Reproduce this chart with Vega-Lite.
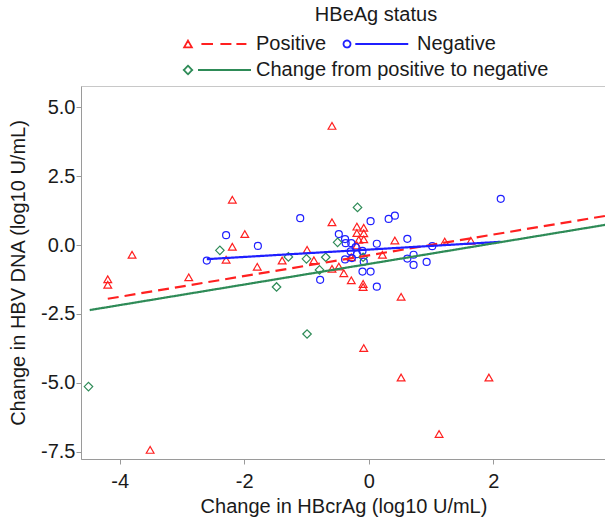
{
  "$schema": "https://vega.github.io/schema/vega-lite/v6.json",
  "width": 525,
  "height": 373,
  "autosize": "none",
  "padding": {"left": 81, "top": 86, "right": 0, "bottom": 64},
  "background": "white",
  "config": {
    "font": "Liberation Sans",
    "view": {"stroke": "#c8c8c8", "strokeWidth": 1},
    "axis": {
      "grid": false,
      "domainColor": "#9a9a9a",
      "tickColor": "#9a9a9a",
      "tickSize": 5,
      "labelColor": "#1a1a1a",
      "titleColor": "#1a1a1a",
      "labelFontSize": 20,
      "titleFontSize": 20,
      "titleFontWeight": "normal"
    },
    "legend": {
      "orient": "none",
      "direction": "horizontal",
      "titleFontSize": 20,
      "titleFontWeight": "normal",
      "titleColor": "#1a1a1a",
      "labelFontSize": 20,
      "labelColor": "#1a1a1a",
      "labelLimit": 400,
      "symbolSize": 49,
      "symbolStrokeWidth": 1.8,
      "symbolOpacity": 1,
      "symbolFillColor": "transparent"
    }
  },
  "datasets": {
    "pts": [
      {"g": "Positive", "x": -0.59, "y": 4.33},
      {"g": "Positive", "x": -4.19, "y": -1.24},
      {"g": "Positive", "x": -4.19, "y": -1.44},
      {"g": "Positive", "x": -3.80, "y": -0.35},
      {"g": "Positive", "x": -2.89, "y": -1.17},
      {"g": "Positive", "x": -3.51, "y": -7.44},
      {"g": "Positive", "x": -2.19, "y": 1.65},
      {"g": "Positive", "x": -1.99, "y": 0.40},
      {"g": "Positive", "x": -2.19, "y": -0.06},
      {"g": "Positive", "x": -2.29, "y": -0.53},
      {"g": "Positive", "x": -1.79, "y": -0.79},
      {"g": "Positive", "x": -1.39, "y": -0.56},
      {"g": "Positive", "x": -0.99, "y": -0.17},
      {"g": "Positive", "x": -0.88, "y": -0.55},
      {"g": "Positive", "x": -0.59, "y": 0.83},
      {"g": "Positive", "x": -0.59, "y": -0.86},
      {"g": "Positive", "x": -0.48, "y": -0.78},
      {"g": "Positive", "x": -0.40, "y": -1.02},
      {"g": "Positive", "x": -0.28, "y": -1.28},
      {"g": "Positive", "x": -0.19, "y": 0.67},
      {"g": "Positive", "x": -0.08, "y": 0.63},
      {"g": "Positive", "x": -0.19, "y": 0.44},
      {"g": "Positive", "x": -0.08, "y": 0.43},
      {"g": "Positive", "x": -0.16, "y": 0.19},
      {"g": "Positive", "x": -0.08, "y": 0.21},
      {"g": "Positive", "x": -0.19, "y": -0.01},
      {"g": "Positive", "x": -0.09, "y": -1.41},
      {"g": "Positive", "x": -0.09, "y": -1.52},
      {"g": "Positive", "x": 0.22, "y": -0.35},
      {"g": "Positive", "x": 0.42, "y": 0.17},
      {"g": "Positive", "x": 0.52, "y": -1.88},
      {"g": "Positive", "x": 1.22, "y": 0.13},
      {"g": "Positive", "x": -0.08, "y": -3.74},
      {"g": "Positive", "x": 0.52, "y": -4.81},
      {"g": "Positive", "x": 1.93, "y": -4.81},
      {"g": "Positive", "x": 1.13, "y": -6.86},
      {"g": "Positive", "x": -0.28, "y": -0.44},
      {"g": "Positive", "x": 1.64, "y": 0.16},
      {"g": "Negative", "x": -2.60, "y": -0.56},
      {"g": "Negative", "x": -2.29, "y": 0.36},
      {"g": "Negative", "x": -1.78, "y": -0.03},
      {"g": "Negative", "x": -1.10, "y": 0.98},
      {"g": "Negative", "x": -0.48, "y": 0.40},
      {"g": "Negative", "x": -0.38, "y": 0.22},
      {"g": "Negative", "x": -0.37, "y": 0.07},
      {"g": "Negative", "x": -0.28, "y": 0.07},
      {"g": "Negative", "x": -0.21, "y": -0.07},
      {"g": "Negative", "x": 0.03, "y": 0.87},
      {"g": "Negative", "x": 0.13, "y": 0.05},
      {"g": "Negative", "x": 0.32, "y": 0.95},
      {"g": "Negative", "x": 0.42, "y": 1.07},
      {"g": "Negative", "x": 0.62, "y": 0.23},
      {"g": "Negative", "x": 1.02, "y": -0.04},
      {"g": "Negative", "x": -0.38, "y": -0.52},
      {"g": "Negative", "x": -0.27, "y": -0.47},
      {"g": "Negative", "x": -0.19, "y": -0.33},
      {"g": "Negative", "x": -0.08, "y": -0.60},
      {"g": "Negative", "x": -0.10, "y": -0.96},
      {"g": "Negative", "x": 0.03, "y": -0.96},
      {"g": "Negative", "x": -0.78, "y": -1.26},
      {"g": "Negative", "x": 0.13, "y": -1.51},
      {"g": "Negative", "x": 0.62, "y": -0.49},
      {"g": "Negative", "x": 0.72, "y": -0.35},
      {"g": "Negative", "x": 0.72, "y": -0.72},
      {"g": "Negative", "x": 0.93, "y": -0.61},
      {"g": "Negative", "x": 2.12, "y": 1.68},
      {"g": "Negative", "x": -0.29, "y": -0.23},
      {"g": "Negative", "x": -0.10, "y": -0.21},
      {"g": "Change from positive to negative", "x": -4.50, "y": -5.14},
      {"g": "Change from positive to negative", "x": -2.39, "y": -0.19},
      {"g": "Change from positive to negative", "x": -1.48, "y": -1.52},
      {"g": "Change from positive to negative", "x": -1.29, "y": -0.43},
      {"g": "Change from positive to negative", "x": -1.00, "y": -0.50},
      {"g": "Change from positive to negative", "x": -0.69, "y": -0.44},
      {"g": "Change from positive to negative", "x": -0.79, "y": -0.90},
      {"g": "Change from positive to negative", "x": -0.50, "y": 0.10},
      {"g": "Change from positive to negative", "x": -0.18, "y": 1.37},
      {"g": "Change from positive to negative", "x": -0.99, "y": -3.23},
      {"g": "Change from positive to negative", "x": -0.09, "y": -0.44}
    ],
    "fit": [
      {"g": "Positive", "x": -4.19, "y": -1.95},
      {"g": "Positive", "x": 3.81, "y": 1.065},
      {"g": "Negative", "x": -2.60, "y": -0.51},
      {"g": "Negative", "x": 2.12, "y": 0.12},
      {"g": "Change from positive to negative", "x": -4.48, "y": -2.36},
      {"g": "Change from positive to negative", "x": 3.81, "y": 0.74}
    ]
  },
  "resolve": {
    "scale": {"strokeDash": "independent"},
    "legend": {"strokeDash": "independent"}
  },
  "layer": [
    {
      "data": {"name": "pts"},
      "transform": [{"filter": "datum.g === 'Positive'"}],
      "mark": {"type": "point", "shape": "triangle-up", "filled": false, "size": 60, "strokeWidth": 1.2, "opacity": 1},
      "encoding": {
        "x": {
          "field": "x", "type": "quantitative",
          "scale": {"domain": [-4.62, 3.81], "nice": false, "zero": false},
          "axis": {
            "title": "Change in HBcrAg (log10 U/mL)",
            "values": [-4, -2, 0, 2],
            "labelExpr": "replace(format(datum.value, 'd'), '\u2212', '-')",
            "labelPadding": 7,
            "titlePadding": 5
          }
        },
        "y": {
          "field": "y", "type": "quantitative",
          "scale": {"domain": [-7.77, 5.78], "nice": false, "zero": false},
          "axis": {
            "title": "Change in HBV DNA (log10 U/mL)",
            "values": [-7.5, -5, -2.5, 0, 2.5, 5],
            "labelExpr": "replace(format(datum.value, '.1f'), '\u2212', '-')",
            "labelPadding": 1,
            "titlePadding": 12
          }
        },
        "color": {
          "field": "g", "type": "nominal",
          "scale": {"domain": ["Positive"], "range": ["#ff2020"]},
          "legend": {
            "title": null,
            "legendX": 97,
            "legendY": -52,
            "labelOffset": 58,
            "symbolType": "M0,-0.96L1.1,0.96L-1.1,0.96ZM3.83,0H7.14M9.26,0H12.4M13.83,0H16.69"
          }
        }
      }
    },
    {
      "data": {"name": "pts"},
      "transform": [{"filter": "datum.g === 'Negative'"}],
      "mark": {"type": "point", "shape": "circle", "filled": false, "size": 49, "strokeWidth": 1.2, "opacity": 1, "color": "#1f1fff"},
      "encoding": {
        "x": {"field": "x", "type": "quantitative"},
        "y": {"field": "y", "type": "quantitative"}
      }
    },
    {
      "data": {"name": "pts"},
      "transform": [{"filter": "datum.g === 'Change from positive to negative'"}],
      "mark": {"type": "point", "shape": "diamond", "filled": false, "size": 72, "strokeWidth": 1.2, "opacity": 1, "color": "#2e8b57"},
      "encoding": {
        "x": {"field": "x", "type": "quantitative"},
        "y": {"field": "y", "type": "quantitative"}
      }
    },
    {
      "data": {"name": "fit"},
      "transform": [{"filter": "datum.g === 'Positive'"}],
      "mark": {"type": "line", "strokeWidth": 2.2, "color": "#ff2020", "strokeDash": [11, 6]},
      "encoding": {
        "x": {"field": "x", "type": "quantitative"},
        "y": {"field": "y", "type": "quantitative"}
      }
    },
    {
      "data": {"name": "fit"},
      "transform": [{"filter": "datum.g === 'Negative'"}],
      "mark": {"type": "line", "strokeWidth": 2.2, "color": "#1f1fff"},
      "encoding": {
        "x": {"field": "x", "type": "quantitative"},
        "y": {"field": "y", "type": "quantitative"},
        "strokeDash": {
          "field": "g", "type": "nominal",
          "scale": {"domain": ["Negative"], "range": [[1, 0]]},
          "legend": {
            "title": null,
            "legendX": 256,
            "legendY": -52,
            "labelOffset": 60,
            "symbolStrokeColor": "#1f1fff",
            "symbolType": "M-1,0A1,1,0,1,0,1,0A1,1,0,1,0,-1,0ZM2.37,0H17.5"
          }
        }
      }
    },
    {
      "data": {"name": "fit"},
      "transform": [{"filter": "datum.g === 'Change from positive to negative'"}],
      "mark": {"type": "line", "strokeWidth": 2.2, "color": "#2e8b57"},
      "encoding": {
        "x": {"field": "x", "type": "quantitative"},
        "y": {"field": "y", "type": "quantitative"},
        "strokeDash": {
          "field": "g", "type": "nominal",
          "scale": {"domain": ["Change from positive to negative"], "range": [[1, 0]]},
          "legend": {
            "title": "HBeAg status",
            "titleAnchor": "middle",
            "titlePadding": 35,
            "legendX": 97,
            "legendY": -81,
            "labelOffset": 58,
            "symbolStrokeColor": "#2e8b57",
            "symbolType": "M0,-1.21L1.21,0L0,1.21L-1.21,0ZM2.86,0H18M109,0"
          }
        }
      }
    }
  ]
}
